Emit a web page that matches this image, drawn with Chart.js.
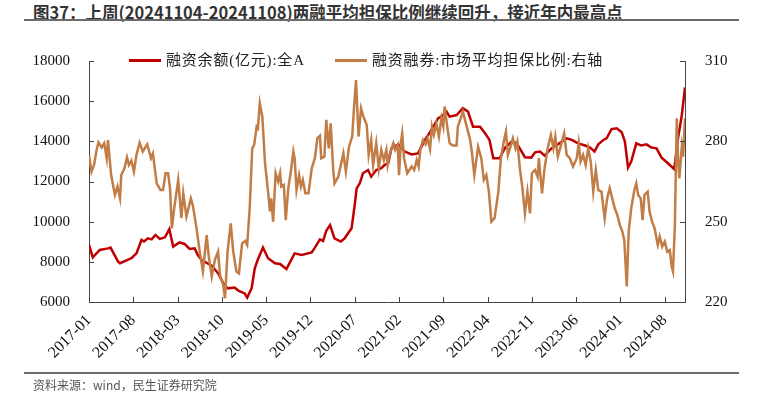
<!DOCTYPE html>
<html>
<head>
<meta charset="utf-8">
<script src="https://cdn.jsdelivr.net/npm/chart.js@4.4.1/dist/chart.umd.min.js"></script>
<style>
    html, body { margin: 0; padding: 0; background: #fff; }
    #wrap { position: relative; width: 763px; height: 395px; overflow: hidden; }
    #title { position: absolute; left: 33px; top: 0; line-height: 20px; font: bold 16.5px "Noto Sans CJK SC", sans-serif; color: #333; white-space: nowrap; }
    .rule { position: absolute; left: 24px; width: 715px; height: 2px; background: #6b6b6b; }
    #src { position: absolute; left: 33px; top: 376px; line-height: 16px; font: 12px "Noto Sans CJK SC", sans-serif; color: #555; white-space: nowrap; }
    #box { position: absolute; left: 0; top: 0; width: 763px; height: 395px; }
    .leg { position: absolute; top: 48px; line-height: 20px; font: 15px "Liberation Serif", "Noto Sans CJK SC", serif; letter-spacing: 0.8px; color: #222; white-space: nowrap; }
    .leg i { display: inline-block; width: 32px; height: 3px; vertical-align: middle; margin-right: 5px; position: relative; top: -1px; }
</style>
</head>
<body>
<div id="wrap">
    <div id="title">图37：上周(20241104-20241108)两融平均担保比例继续回升，接近年内最高点</div>
    <div class="rule" style="top:19px"></div>
    <div id="box"><canvas id="myChart" width="763" height="395"></canvas></div>
    <div class="leg" style="left:129px"><i style="background:#C00000"></i>融资余额(亿元):全A</div>
    <div class="leg" style="left:335px"><i style="background:#C27C46"></i>融资融券:市场平均担保比例:右轴</div>
    <div class="rule" style="top:372px"></div>
    <div id="src">资料来源：wind，民生证券研究院</div>
</div>
<script>
(function () {
    'use strict';

    // months counted from 2017-01
    var finMonths = [0, 0.6, 1.7, 3.0, 3.4, 4.6, 4.9, 6.2, 6.7, 7.5,
        8.3, 8.7, 9.3, 9.9, 10.5, 11.2, 12.0, 12.7, 13.3, 14.3,
        15.1, 15.9, 16.7, 17.2, 17.8, 19.4, 20.4, 21.5, 22.0, 23.0,
        23.6, 24.6, 25.0, 25.7, 26.2, 26.7, 27.5, 28.3, 29.4, 30.2,
        31.2, 32.5, 33.6, 35.2, 35.7, 36.5, 37.0, 37.5, 38.1, 38.8,
        39.8, 40.4, 41.5, 42.0, 42.3, 42.8, 43.3, 44.1, 44.6, 45.4,
        46.2, 46.7, 47.3, 47.8, 48.9, 49.9, 51.0, 52.0, 53.1, 54.1,
        55.2, 55.7, 56.5, 57.0, 58.1, 59.1, 59.9, 60.7, 61.8, 62.6,
        63.3, 63.9, 64.9, 65.7, 66.8, 67.6, 68.9, 69.9, 70.5, 71.3,
        72.0, 73.1, 74.1, 75.5, 76.3, 77.3, 78.4, 79.2, 79.9, 80.5,
        81.3, 81.8, 82.6, 83.4, 84.2, 84.7, 85.2, 85.7, 86.5, 87.3,
        88.1, 88.9, 89.7, 90.5, 91.5, 92.5, 93.1, 93.7, 94.2];

    // 融资余额(亿元)
    var finBalance = [8840, 8220, 8590, 8670, 8710, 8010, 7930, 8110, 8180, 8420,
        9090, 9010, 9170, 9120, 9340, 9140, 9220, 9630, 8760, 8970,
        8890, 8640, 8670, 8340, 8090, 7810, 7430, 6770, 6680, 6720,
        6570, 6430, 6220, 6680, 7680, 8130, 8710, 8180, 7930, 7890,
        7640, 8420, 8340, 8470, 8710, 9120, 9040, 9550, 9830, 9170,
        9010, 9170, 9670, 10830, 11660, 11910, 12410, 12570, 12240, 12570,
        12660, 12820, 12910, 13650, 13850, 13490, 13350, 13400, 14070, 14560,
        15150, 15230, 15480, 15230, 15310, 15650, 15480, 14730, 14730, 14400,
        14070, 13160, 13160, 13650, 13990, 13900, 13210, 13190, 13450, 13490,
        13290, 13650, 13850, 14150, 14070, 13900, 13790, 13690, 13490, 13850,
        14070, 14150, 14610, 14650, 14450, 13990, 12690, 12990, 13900, 13790,
        13850, 13690, 13650, 13190, 12910, 12610, 14150, 15310, 16680];

    var ratioMonths = [0, 0.4, 0.8, 1.2, 1.5, 2.0, 2.4, 2.8, 3.0, 3.5,
        4.1, 4.5, 4.9, 5.1, 5.6, 6.0, 6.3, 6.7, 7.1, 7.5,
        8.0, 8.5, 9.2, 9.8, 10.1, 10.7, 11.3, 11.7, 12.1, 12.5,
        12.8, 13.1, 13.4, 14.1, 14.6, 14.9, 15.4, 16.1, 16.4, 17.0,
        17.5, 18.0, 18.6, 18.9, 19.4, 19.9, 20.4, 20.7, 21.2, 21.5,
        21.9, 22.4, 22.8, 23.3, 23.7, 24.2, 24.7, 25.0, 25.4, 25.8,
        26.1, 26.5, 26.7, 27.0, 27.4, 27.8, 28.3, 28.6, 28.8, 29.1,
        29.5, 29.9, 30.2, 30.4, 30.8, 31.1, 31.5, 31.9, 32.3, 32.5,
        32.8, 33.2, 33.5, 33.8, 34.2, 34.7, 35.2, 35.7, 36.1, 36.5,
        36.7, 37.2, 37.5, 37.9, 38.2, 38.6, 38.8, 39.4, 39.8, 40.2,
        40.6, 41.1, 41.6, 41.9, 42.2, 42.4, 42.6, 43.0, 43.3, 43.9,
        44.2, 44.6, 44.9, 45.4, 45.8, 46.2, 46.6, 47.0, 47.2, 47.5,
        48.1, 48.4, 48.8, 49.0, 49.3, 49.5, 49.8, 50.3, 51.0, 51.4,
        51.8, 52.1, 52.4, 52.8, 53.2, 53.5, 53.9, 54.2, 54.5, 54.9,
        55.3, 55.7, 56.0, 56.2, 56.7, 57.0, 57.5, 58.1, 58.3, 59.1,
        59.7, 60.2, 60.5, 60.9, 61.5, 62.0, 62.4, 62.8, 63.2, 63.6,
        64.1, 64.7, 65.1, 65.6, 65.9, 66.2, 66.7, 67.0, 67.4, 67.7,
        68.1, 68.5, 68.9, 69.3, 69.7, 70.0, 70.5, 70.9, 71.1, 71.6,
        72.0, 72.5, 73.0, 73.4, 73.7, 74.1, 74.6, 75.1, 75.5, 76.0,
        76.5, 77.1, 77.4, 77.7, 78.1, 78.5, 78.9, 79.3, 79.7, 80.1,
        80.5, 81.0, 81.5, 81.9, 82.3, 82.7, 83.1, 83.5, 83.9, 84.3,
        84.6, 85.0, 85.3, 85.7, 86.2, 86.5, 86.8, 87.2, 87.5, 87.8,
        88.3, 88.6, 89.0, 89.4, 89.9, 90.2, 90.6, 91.0, 91.4, 91.8,
        92.1, 92.3, 92.6, 92.9, 93.1, 93.3, 93.7, 93.9, 94.2];

    // 市场平均担保比例(%)
    var ratioValues = [274.9, 268.7, 271.2, 276.8, 279.6, 277.7, 279.3, 273.7, 280.5, 267.4,
        260.0, 263.1, 258.7, 267.4, 269.9, 274.0, 271.2, 272.8, 268.7, 274.9,
        279.5, 276.2, 278.9, 273.7, 275.5, 264.3, 261.8, 261.8, 268.1, 268.1,
        262.5, 247.5, 253.8, 265.6, 251.3, 260.6, 251.9, 258.7, 256.2, 247.5,
        238.8, 231.4, 245.0, 237.6, 229.5, 235.7, 238.8, 230.1, 226.4, 221.4,
        238.8, 249.4, 238.8, 231.4, 230.7, 241.9, 242.8, 241.3, 255.0, 277.4,
        278.6, 285.5, 284.9, 294.2, 289.2, 272.4, 261.2, 253.8, 258.7, 250.0,
        268.1, 265.0, 268.1, 263.1, 263.7, 250.6, 262.5, 268.7, 276.2, 273.7,
        261.8, 267.4, 263.1, 265.6, 260.6, 260.6, 269.9, 273.7, 281.2, 282.1,
        273.7, 274.3, 288.0, 277.4, 286.7, 269.3, 264.3, 266.8, 271.2, 275.5,
        268.7, 278.0, 281.8, 293.0, 302.9, 292.3, 281.8, 292.3, 289.8, 286.1,
        274.9, 280.5, 271.2, 279.3, 269.9, 276.8, 273.0, 276.8, 271.2, 274.9,
        279.3, 276.8, 278.6, 267.4, 279.9, 283.0, 273.7, 268.1, 270.6, 269.3,
        273.0, 270.6, 277.4, 280.5, 278.9, 281.1, 277.1, 285.5, 282.4, 286.7,
        281.8, 288.6, 285.5, 293.0, 284.2, 279.3, 278.4, 278.4, 285.5, 291.1,
        285.5, 281.1, 276.2, 267.4, 278.0, 273.7, 265.6, 267.4, 261.2, 250.0,
        251.3, 261.2, 273.7, 280.5, 283.6, 274.9, 278.6, 281.1, 277.4, 279.9,
        269.9, 262.5, 253.1, 261.2, 253.1, 268.1, 269.3, 266.8, 273.7, 260.6,
        269.9, 277.4, 282.4, 277.4, 281.8, 274.3, 278.6, 283.0, 274.9, 273.7,
        270.6, 273.7, 279.3, 272.4, 274.9, 271.2, 277.4, 272.4, 261.2, 269.3,
        261.8, 261.2, 251.3, 258.7, 262.5, 258.7, 255.0, 252.5, 248.8, 246.3,
        243.2, 225.8, 246.3, 255.0, 261.8, 264.3, 260.0, 258.7, 250.6, 260.0,
        261.2, 253.8, 250.0, 247.5, 241.3, 244.4, 240.7, 242.6, 238.8, 239.4,
        233.2, 231.4, 248.8, 288.6, 273.7, 266.2, 278.0, 274.3, 288.6];

    function pairs(xs, ys) {
        var out = [];
        for (var i = 0; i < xs.length; i++) out.push({ x: xs[i], y: ys[i] });
        return out;
    }

    function fmtMonth(v) {
        var m = Math.round(v);
        var mm = m % 12 + 1;
        return (2017 + Math.floor(m / 12)) + '-' + (mm < 10 ? '0' + mm : mm);
    }

    function plain(v) { return String(v); }

    var tickFont = { family: 'Liberation Serif', size: 15 };
    var axisColor = '#444';

    // short tick marks pointing into the plot
    var innerTicks = {
        id: 'innerTicks',
        afterDraw: function (chart) {
            var ctx = chart.ctx, a = chart.chartArea, s = chart.scales;
            ctx.save();
            ctx.strokeStyle = axisColor;
            ctx.lineWidth = 1;
            ctx.beginPath();
            s.x.ticks.forEach(function (t, i) {
                var px = Math.round(s.x.getPixelForTick(i)) + 0.5;
                ctx.moveTo(px, a.bottom); ctx.lineTo(px, a.bottom - 5);
            });
            s.y.ticks.forEach(function (t, i) {
                var py = Math.round(s.y.getPixelForTick(i)) + 0.5;
                ctx.moveTo(a.left, py); ctx.lineTo(a.left + 5, py);
            });
            s.y1.ticks.forEach(function (t, i) {
                var py = Math.round(s.y1.getPixelForTick(i)) + 0.5;
                ctx.moveTo(a.right, py); ctx.lineTo(a.right - 5, py);
            });
            ctx.stroke();
            ctx.restore();
        }
    };

    var config = {
        type: 'line',
        data: {
            datasets: [{
                label: '融资余额(亿元):全A',
                data: pairs(finMonths, finBalance),
                yAxisID: 'y',
                borderColor: '#C00000',
                borderWidth: 2.5,
                pointRadius: 0,
                order: 1
            }, {
                label: '融资融券:市场平均担保比例:右轴',
                data: pairs(ratioMonths, ratioValues),
                yAxisID: 'y1',
                borderColor: '#C27C46',
                borderWidth: 2.5,
                pointRadius: 0,
                order: 0
            }]
        },
        options: {
            responsive: false,
            animation: false,
            layout: { padding: { top: 61, left: 0, right: 0, bottom: 0 } },
            plugins: { legend: { display: false }, tooltip: { enabled: false } },
            scales: {
                x: {
                    type: 'linear', position: 'bottom', min: 0, max: 94.2,
                    grid: { display: false },
                    border: { color: axisColor, width: 1 },
                    ticks: {
                        stepSize: 7, includeBounds: false, autoSkip: false,
                        minRotation: 45, maxRotation: 45, padding: 1,
                        font: { family: 'Liberation Serif', size: 16 }, color: '#111',
                        callback: fmtMonth
                    },
                    afterFit: function (sc) { sc.height = 93; }
                },
                y: {
                    position: 'left', min: 6000, max: 18000,
                    grid: { display: false },
                    border: { color: axisColor, width: 1 },
                    ticks: { stepSize: 2000, padding: 11, font: tickFont, color: '#111', callback: plain },
                    afterFit: function (sc) { sc.width = 89; }
                },
                y1: {
                    position: 'right', min: 220, max: 310,
                    grid: { display: false },
                    border: { color: axisColor, width: 1 },
                    ticks: { stepSize: 30, padding: 12, font: tickFont, color: '#111', callback: plain },
                    afterFit: function (sc) { sc.width = 78; }
                }
            }
        },
        plugins: [innerTicks]
    };

    new Chart(document.getElementById('myChart'), config);
}());
</script>
</body>
</html>
